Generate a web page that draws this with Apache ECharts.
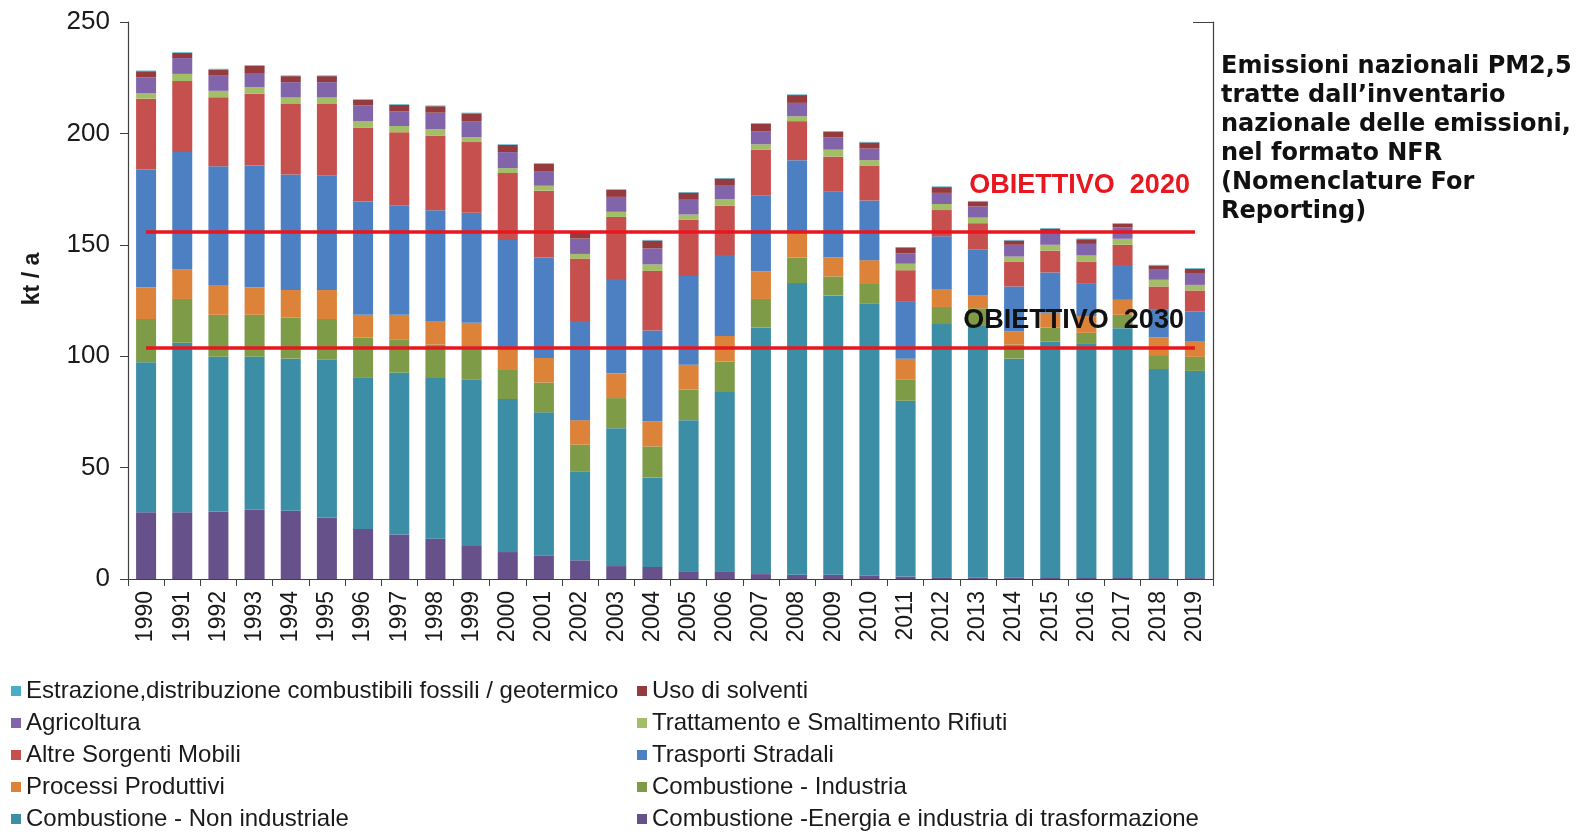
<!DOCTYPE html>
<html><head><meta charset="utf-8">
<script src="https://cdn.jsdelivr.net/npm/echarts@6/dist/echarts.min.js"></script>
<style>html,body{margin:0;padding:0;background:#fff}#c{width:1595px;height:832px}</style>
</head><body><div id="c"></div>
<script>
const years = ['1990','1991','1992','1993','1994','1995','1996','1997','1998','1999','2000','2001','2002','2003','2004','2005','2006','2007','2008','2009','2010','2011','2012','2013','2014','2015','2016','2017','2018','2019'];
const yTicks = [0, 50, 100, 150, 200, 250];

const energia = [30.0,30.0,30.3,31.1,30.6,27.6,22.4,20.0,18.1,14.8,12.1,10.6,8.4,5.8,5.4,3.5,3.5,2.2,1.9,1.9,1.6,1.1,0.8,0.7,0.6,0.5,0.5,0.5,0.4,0.4];
const nonIndustriale = [67.3,76.0,69.4,68.6,68.3,70.8,68.1,72.6,72.1,74.6,68.7,64.2,39.7,61.9,40.2,67.8,80.4,110.6,130.9,125.4,122.2,78.9,113.6,112.8,98.3,106.0,105.0,112.1,93.8,93.0];
const industria = [19.4,19.7,18.9,18.9,18.5,18.3,17.9,15.0,15.0,15.0,13.4,13.4,12.2,13.5,13.9,13.7,13.7,12.9,11.5,8.5,9.0,9.4,7.7,8.0,6.3,6.3,5.0,6.0,6.3,6.3];
const processi = [14.1,13.4,13.4,12.2,12.3,13.0,10.2,11.0,10.6,10.6,9.4,11.0,11.0,11.1,11.3,11.2,11.5,12.3,11.4,8.5,10.3,9.5,8.0,5.8,6.0,6.7,7.5,6.7,7.9,6.8];
const trasporti = [53.0,52.5,53.3,54.8,51.8,51.5,50.8,49.2,49.7,49.4,48.6,45.1,44.5,42.4,40.7,39.8,36.3,34.2,32.3,29.5,26.8,25.5,23.7,20.7,20.1,18.1,14.8,15.2,12.4,13.5];
const altreMobili = [31.8,31.9,30.9,32.2,31.7,32.0,33.3,32.7,33.6,31.7,30.0,30.0,28.0,27.8,26.8,25.2,22.1,20.4,17.5,15.8,15.7,14.2,11.8,11.7,11.0,9.8,9.7,9.5,10.5,9.5];
const rifiuti = [2.4,3.2,2.9,2.9,2.9,2.9,2.7,2.8,2.8,2.2,2.2,2.2,2.1,2.3,2.9,2.4,3.0,2.5,2.2,3.1,2.4,2.9,2.7,2.5,2.4,2.6,2.7,2.7,3.0,2.5];
const agricoltura = [7.1,7.1,6.8,6.4,6.9,6.9,7.1,6.5,7.4,7.2,7.2,6.3,6.9,6.7,7.2,6.6,6.0,5.9,6.0,5.6,5.2,4.7,5.0,5.0,5.3,5.5,5.2,5.1,4.5,5.0];
const solventi = [2.8,2.3,2.7,3.2,2.7,2.7,2.5,3.0,2.9,3.5,3.2,3.5,2.9,3.1,3.5,3.2,3.2,3.3,3.5,2.4,2.7,2.6,2.6,2.2,1.9,1.7,2.1,1.6,1.9,2.2];
const estrazione = [0.3,0.3,0.4,0.3,0.3,0.3,0.3,0.3,0.3,0.3,0.3,0.3,0.2,0.3,0.3,0.3,0.3,0.3,0.3,0.3,0.3,0.2,0.3,0.3,0.3,0.3,0.3,0.3,0.3,0.3];

const obiettivo2020 = 156;
const obiettivo2030 = 104;

const N_ENERGIA = 'Combustione -Energia e industria di trasformazione';
const N_NONIND = 'Combustione - Non industriale';
const N_IND = 'Combustione - Industria';
const N_PROC = 'Processi Produttivi';
const N_TRASP = 'Trasporti Stradali';
const N_ALTRE = 'Altre Sorgenti Mobili';
const N_RIF = 'Trattamento e Smaltimento Rifiuti';
const N_AGR = 'Agricoltura';
const N_SOLV = 'Uso di solventi';
const N_ESTR = 'Estrazione,distribuzione combustibili fossili / geotermico';

const stackDefs = [
  [N_ENERGIA, energia, '#67518a'],
  [N_NONIND, nonIndustriale, '#3b8ea6'],
  [N_IND, industria, '#7e9b47'],
  [N_PROC, processi, '#dc8239'],
  [N_TRASP, trasporti, '#4d80c2'],
  [N_ALTRE, altreMobili, '#c6504e'],
  [N_RIF, rifiuti, '#a2bf66'],
  [N_AGR, agricoltura, '#8264aa'],
  [N_SOLV, solventi, '#953a3d'],
  [N_ESTR, estrazione, '#4bacc6']
];

const series = stackDefs.map(([name, data, color]) => ({
  name, type: 'bar', stack: 'tot', data, barWidth: 20,
  itemStyle: { color }, emphasis: { disabled: true }
}));

const lbl = (txt, color, padBottom, padRight) => ({
  show: true, position: 'insideEndTop', formatter: txt, color,
  fontSize: 27, fontWeight: 'bold', fontFamily: 'Liberation Sans', distance: 5,
  padding: [0, padRight, padBottom, 0]
});

series.push({
  name: 'obiettivi', type: 'line', data: [], silent: true,
  markLine: {
    silent: true, symbol: 'none', animation: false,
    lineStyle: { color: '#e8161e', width: 3.5, type: 'solid' },
    data: [
      [{ coord: [years[0], obiettivo2020], label: lbl('OBIETTIVO  2020', '#e8161e', 27, 0) },
       { coord: [years[years.length - 1], obiettivo2020] }],
      [{ coord: [years[0], obiettivo2030], label: lbl('OBIETTIVO  2030', '#111', 8, 6) },
       { coord: [years[years.length - 1], obiettivo2030] }]
    ]
  }
});

const legendText = { fontSize: 24, fontFamily: 'Liberation Sans', color: '#1a1a1a', lineHeight: 24 };

const chart = echarts.init(document.getElementById('c'), null, { renderer: 'canvas' });
chart.setOption({
  backgroundColor: '#fff',
  animation: false,
  textStyle: { fontFamily: 'Liberation Sans' },
  title: {
    text: 'Emissioni nazionali PM2,5\ntratte dall\u2019inventario\nnazionale delle emissioni,\nnel formato NFR\n(Nomenclature For\nReporting)',
    left: 1221, top: 52, padding: 0,
    textStyle: { fontFamily: 'DejaVu Sans', fontWeight: 'bold', fontSize: 24, lineHeight: 29, color: '#111' }
  },
  grid: { left: 128, right: 382, top: 22, bottom: 253, containLabel: false },
  legend: [
    { data: [N_ESTR, N_AGR, N_ALTRE, N_PROC, N_NONIND], orient: 'vertical', left: 11, top: 679, padding: 0,
      itemWidth: 10, itemHeight: 10, itemGap: 8, icon: 'rect', textStyle: legendText, selectedMode: false },
    { data: [N_SOLV, N_RIF, N_TRASP, N_IND, N_ENERGIA], orient: 'vertical', left: 637, top: 679, padding: 0,
      itemWidth: 10, itemHeight: 10, itemGap: 8, icon: 'rect', textStyle: legendText, selectedMode: false }
  ],
  xAxis: {
    type: 'category', data: years,
    axisLine: { lineStyle: { color: '#404040', width: 1.2 } },
    axisTick: { show: true, alignWithLabel: false, length: 7, lineStyle: { color: '#404040' } },
    axisLabel: { rotate: 90, fontSize: 23, color: '#1a1a1a', margin: 12, interval: 0 }
  },
  yAxis: [
    {
      type: 'value', min: yTicks[0], max: yTicks[yTicks.length - 1], interval: yTicks[1] - yTicks[0],
      axisLine: { show: true, lineStyle: { color: '#404040', width: 1.2 } },
      axisTick: { show: true, length: 8, lineStyle: { color: '#404040' } },
      axisLabel: { fontSize: 26, color: '#1a1a1a', margin: 18 },
      splitLine: { show: false }
    },
    {
      type: 'value', position: 'right', min: 0, max: 250, interval: 250,
      axisLine: { show: true, lineStyle: { color: '#404040', width: 1.2 } },
      axisTick: { show: true, inside: true, length: 20, lineStyle: { color: '#404040' } },
      axisLabel: { show: false }, splitLine: { show: false }
    }
  ],
  graphic: [{
    type: 'text', x: 33, y: 279, rotation: Math.PI / 2,
    style: { text: 'kt / a', fontSize: 23, fontWeight: 'bold', fontFamily: 'Liberation Sans', fill: '#1a1a1a', align: 'center', verticalAlign: 'middle' }
  }],
  series
});
</script>
</body></html>
